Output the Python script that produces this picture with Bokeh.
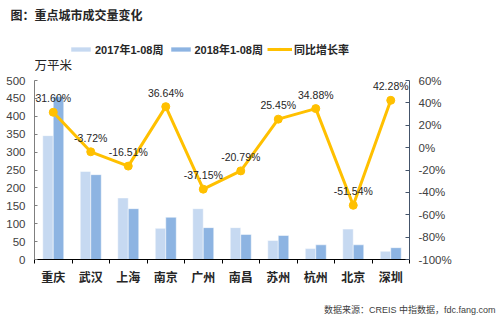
from bokeh.plotting import figure
from bokeh.models import (Range1d, LinearAxis, FixedTicker,
                          PrintfTickFormatter, Legend, LegendItem, Title, Label,
                          ColumnDataSource)
from bokeh.transform import dodge
from bokeh.core.properties import value
from bokeh.embed import file_html
from bokeh.resources import INLINE

cities = ["重庆", "武汉", "上海", "南京", "广州", "南昌", "苏州", "杭州", "北京", "深圳"]
vol_2017 = [346, 246, 172, 87, 142, 89, 53, 31, 85, 23]
vol_2018 = [455, 237, 142, 118, 89, 70, 67, 41, 41, 33]
growth = [31.60, -3.72, -16.51, 36.64, -37.15, -20.79, 25.45, 34.88, -51.54, 42.28]
left_ticks = list(range(0, 501, 50))
right_ticks = list(range(-100, 61, 20))

LAT = "Liberation Sans, 'Noto Sans CJK SC', sans-serif"
CJK = "'Noto Sans CJK SC', sans-serif"

# layout (pixels): frame spans canvas y 30..259; axes cover 80..259
TOP, BOTTOM, AX_TOP = 30, 259, 80
ext = (BOTTOM - TOP) / (BOTTOM - AX_TOP)

n = len(cities)
xc = [i + 0.5 for i in range(n)]
src = ColumnDataSource(dict(x=xc, city=cities, v17=vol_2017, v18=vol_2018, g=growth,
                            gl=["%.2f%%" % v for v in growth]))

p = figure(width=500, height=321, x_range=Range1d(0, n),
           y_range=Range1d(0, left_ticks[-1] * ext), output_backend="svg",
           toolbar_location=None, x_axis_location=None,
           min_border_left=34, min_border_right=91,
           min_border_top=TOP, min_border_bottom=321 - BOTTOM)
p.outline_line_color = None
p.xgrid.grid_line_color = None
p.ygrid.grid_line_color = None
p.background_fill_color = "white"

p.extra_y_ranges = {"pct": Range1d(right_ticks[0],
                                   right_ticks[0] + (right_ticks[-1] - right_ticks[0]) * ext)}

ya = p.yaxis[0]
ya.ticker = FixedTicker(ticks=left_ticks)
ya.bounds = (left_ticks[0], left_ticks[-1])
ya.axis_line_color = "#7f7f7f"
ya.major_tick_line_color = "#7f7f7f"
ya.major_tick_in = 3
ya.major_tick_out = 0
ya.minor_tick_line_color = None
ya.major_label_standoff = 9
ya.major_label_text_font = LAT
ya.major_label_text_font_size = "11.5px"
ya.major_label_text_color = "#404040"

ra = LinearAxis(y_range_name="pct", ticker=FixedTicker(ticks=right_ticks),
                formatter=PrintfTickFormatter(format="%d%%"),
                bounds=(right_ticks[0], right_ticks[-1]))
ra.axis_line_color = "#44546A"
ra.major_tick_line_color = "#44546A"
ra.major_tick_in = 4
ra.major_tick_out = 0
ra.minor_tick_line_color = None
ra.major_label_standoff = 9
ra.major_label_text_font = LAT
ra.major_label_text_font_size = "11.5px"
ra.major_label_text_color = "#404040"
p.add_layout(ra, "right")

ca = LinearAxis(ticker=FixedTicker(ticks=xc, minor_ticks=list(range(n + 1))),
                major_label_overrides={x: c for x, c in zip(xc, cities)})
ca.axis_line_color = "#000000"
ca.major_tick_line_color = None
ca.major_tick_out = 0
ca.major_tick_in = 0
ca.minor_tick_line_color = "#000000"
ca.minor_tick_out = 4
ca.minor_tick_in = 0
ca.major_label_standoff = 4
ca.major_label_text_font = CJK
ca.major_label_text_font_size = "12px"
ca.major_label_text_font_style = "bold"
ca.major_label_text_color = "#262626"
p.add_layout(ca, "below")

b1 = p.vbar(x=dodge("x", -0.14), top="v17", width=0.28, source=src,
            fill_color="#C6D9F1", line_color="white", line_width=0.5)
b2 = p.vbar(x=dodge("x", 0.14), top="v18", width=0.28, source=src,
            fill_color="#8DB4E2", line_color="white", line_width=0.5)
ln = p.line(x="x", y="g", source=src, y_range_name="pct", line_color="#FFC000", line_width=3)
sc = p.scatter(x="x", y="g", source=src, y_range_name="pct", size=8,
               fill_color="#FFC000", line_color="#FFC000")
p.text(x="x", y="g", text="gl", source=src, y_range_name="pct", text_align="center",
       text_baseline="middle", y_offset=-14, text_font=value(LAT), text_font_size="10.5px",
       text_color="#262626")

legend = Legend(items=[LegendItem(label="2017年1-08周", renderers=[b1]),
                       LegendItem(label="2018年1-08周", renderers=[b2]),
                       LegendItem(label="同比增长率", renderers=[ln, sc])],
                orientation="horizontal", location=(34, 202), border_line_color=None,
                background_fill_alpha=0, padding=0, margin=0, spacing=4,
                glyph_width=25, glyph_height=6, label_standoff=2, label_height=12,
                label_text_font=LAT, label_text_font_size="11px",
                label_text_font_style="bold", label_text_color="#262626")
p.add_layout(legend, "center")

p.add_layout(Label(x=0, y=195, x_units="screen", y_units="screen", text="万平米",
                   text_font=CJK, text_font_size="12.5px", text_color="#262626",
                   text_baseline="middle"))

p.add_layout(Title(text="图：重点城市成交量变化", align="left", offset=-24, standoff=12,
                   vertical_align="top", text_font=LAT, text_font_size="12px",
                   text_font_style="bold", text_color="#262626"), "above")

p.add_layout(Title(text="\n数据来源：CREIS 中指数据，fdc.fang.com", align="right", offset=-86,
                   standoff=10, text_font=LAT, text_font_size="9px",
                   text_font_style="normal", text_color="#404040"), "below")

open("out.html", "w").write(file_html(p, INLINE))
